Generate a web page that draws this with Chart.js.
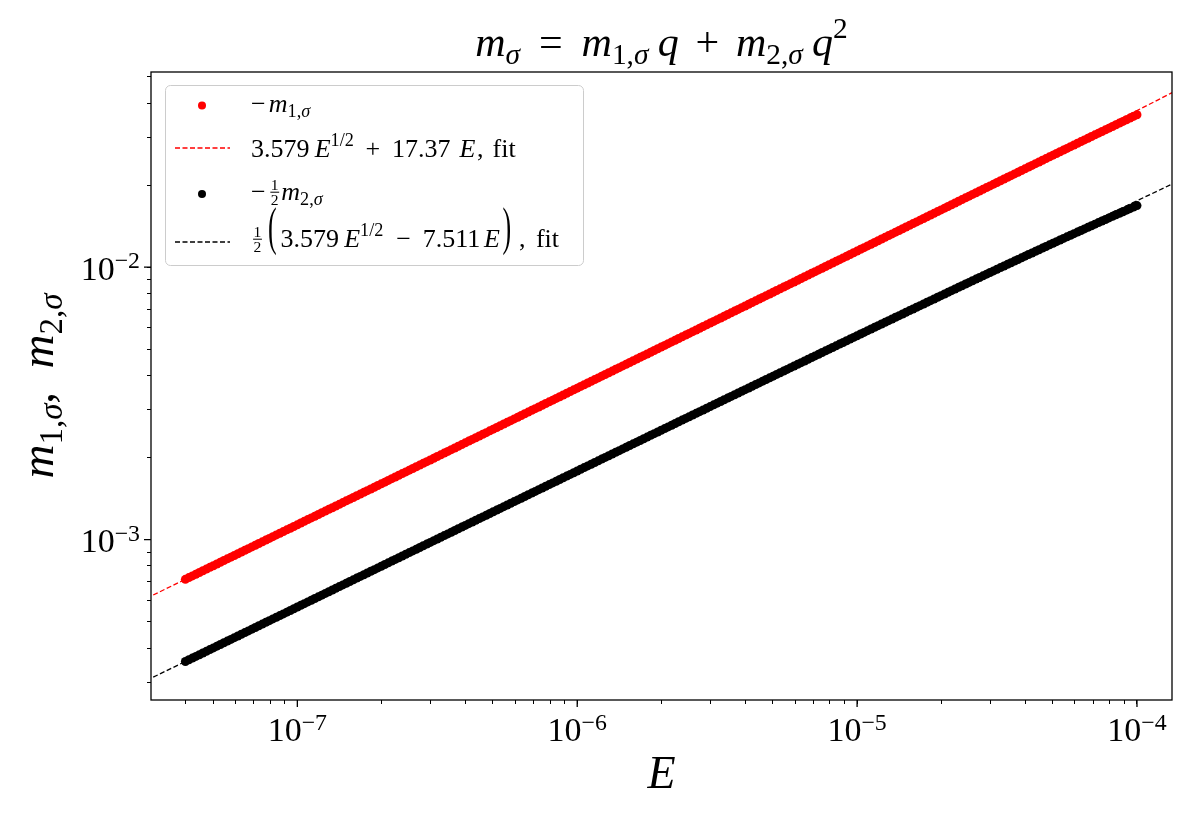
<!DOCTYPE html>
<html>
<head>
<meta charset="utf-8">
<title>m_sigma = m1 q + m2 q^2</title>
<script src="https://cdn.jsdelivr.net/npm/chart.js@4.4.0/dist/chart.umd.min.js"></script>
<style>
  html, body { margin: 0; padding: 0; background: #fff; }
  canvas { display: block; }
</style>
</head>
<body>
<canvas id="chart" width="1200" height="825"></canvas>
<script>
// ---- data ----
const energies = [
  3.981e-8, 4.097e-8, 4.217e-8, 4.340e-8, 4.467e-8, 4.597e-8, 4.732e-8, 4.870e-8, 5.012e-8, 5.158e-8,
  5.309e-8, 5.464e-8, 5.623e-8, 5.788e-8, 5.957e-8, 6.131e-8, 6.310e-8, 6.494e-8, 6.683e-8, 6.879e-8,
  7.079e-8, 7.286e-8, 7.499e-8, 7.718e-8, 7.943e-8, 8.175e-8, 8.414e-8, 8.660e-8, 8.913e-8, 9.173e-8,
  9.441e-8, 9.716e-8,
  1.000e-7, 1.029e-7, 1.059e-7, 1.090e-7, 1.122e-7, 1.155e-7, 1.189e-7, 1.223e-7, 1.259e-7, 1.296e-7,
  1.334e-7, 1.372e-7, 1.413e-7, 1.454e-7, 1.496e-7, 1.540e-7, 1.585e-7, 1.631e-7, 1.679e-7, 1.728e-7,
  1.778e-7, 1.830e-7, 1.884e-7, 1.939e-7, 1.995e-7, 2.054e-7, 2.113e-7, 2.175e-7, 2.239e-7, 2.304e-7,
  2.371e-7, 2.441e-7, 2.512e-7, 2.585e-7, 2.661e-7, 2.738e-7, 2.818e-7, 2.901e-7, 2.985e-7, 3.073e-7,
  3.162e-7, 3.255e-7, 3.350e-7, 3.448e-7, 3.548e-7, 3.652e-7, 3.758e-7, 3.868e-7, 3.981e-7, 4.097e-7,
  4.217e-7, 4.340e-7, 4.467e-7, 4.597e-7, 4.732e-7, 4.870e-7, 5.012e-7, 5.158e-7, 5.309e-7, 5.464e-7,
  5.623e-7, 5.788e-7, 5.957e-7, 6.131e-7, 6.310e-7, 6.494e-7, 6.683e-7, 6.879e-7, 7.079e-7, 7.286e-7,
  7.499e-7, 7.718e-7, 7.943e-7, 8.175e-7, 8.414e-7, 8.660e-7, 8.913e-7, 9.173e-7, 9.441e-7, 9.716e-7,
  1.000e-6, 1.029e-6, 1.059e-6, 1.090e-6, 1.122e-6, 1.155e-6, 1.189e-6, 1.223e-6, 1.259e-6, 1.296e-6,
  1.334e-6, 1.372e-6, 1.413e-6, 1.454e-6, 1.496e-6, 1.540e-6, 1.585e-6, 1.631e-6, 1.679e-6, 1.728e-6,
  1.778e-6, 1.830e-6, 1.884e-6, 1.939e-6, 1.995e-6, 2.054e-6, 2.113e-6, 2.175e-6, 2.239e-6, 2.304e-6,
  2.371e-6, 2.441e-6, 2.512e-6, 2.585e-6, 2.661e-6, 2.738e-6, 2.818e-6, 2.901e-6, 2.985e-6, 3.073e-6,
  3.162e-6, 3.255e-6, 3.350e-6, 3.448e-6, 3.548e-6, 3.652e-6, 3.758e-6, 3.868e-6, 3.981e-6, 4.097e-6,
  4.217e-6, 4.340e-6, 4.467e-6, 4.597e-6, 4.732e-6, 4.870e-6, 5.012e-6, 5.158e-6, 5.309e-6, 5.464e-6,
  5.623e-6, 5.788e-6, 5.957e-6, 6.131e-6, 6.310e-6, 6.494e-6, 6.683e-6, 6.879e-6, 7.079e-6, 7.286e-6,
  7.499e-6, 7.718e-6, 7.943e-6, 8.175e-6, 8.414e-6, 8.660e-6, 8.913e-6, 9.173e-6, 9.441e-6, 9.716e-6,
  1.000e-5, 1.029e-5, 1.059e-5, 1.090e-5, 1.122e-5, 1.155e-5, 1.189e-5, 1.223e-5, 1.259e-5, 1.296e-5,
  1.334e-5, 1.372e-5, 1.413e-5, 1.454e-5, 1.496e-5, 1.540e-5, 1.585e-5, 1.631e-5, 1.679e-5, 1.728e-5,
  1.778e-5, 1.830e-5, 1.884e-5, 1.939e-5, 1.995e-5, 2.054e-5, 2.113e-5, 2.175e-5, 2.239e-5, 2.304e-5,
  2.371e-5, 2.441e-5, 2.512e-5, 2.585e-5, 2.661e-5, 2.738e-5, 2.818e-5, 2.901e-5, 2.985e-5, 3.073e-5,
  3.162e-5, 3.255e-5, 3.350e-5, 3.448e-5, 3.548e-5, 3.652e-5, 3.758e-5, 3.868e-5, 3.981e-5, 4.097e-5,
  4.217e-5, 4.340e-5, 4.467e-5, 4.597e-5, 4.732e-5, 4.870e-5, 5.012e-5, 5.158e-5, 5.309e-5, 5.464e-5,
  5.623e-5, 5.788e-5, 5.957e-5, 6.131e-5, 6.310e-5, 6.494e-5, 6.683e-5, 6.879e-5, 7.079e-5, 7.286e-5,
  7.499e-5, 7.718e-5, 7.943e-5, 8.175e-5, 8.414e-5, 8.660e-5, 8.913e-5, 9.173e-5, 9.441e-5, 9.716e-5,
  1.000e-4
];

// -m_{1,sigma}
const m1Values = [
  7.148e-4, 7.252e-4, 7.356e-4, 7.464e-4, 7.571e-4, 7.682e-4, 7.793e-4, 7.907e-4, 8.020e-4, 8.138e-4,
  8.255e-4, 8.376e-4, 8.496e-4, 8.620e-4, 8.744e-4, 8.872e-4, 9.000e-4, 9.132e-4, 9.263e-4, 9.399e-4,
  9.534e-4, 9.674e-4, 9.813e-4, 9.957e-4,
  1.010e-3, 1.025e-3, 1.040e-3, 1.055e-3, 1.070e-3, 1.086e-3, 1.101e-3, 1.117e-3, 1.133e-3, 1.150e-3,
  1.167e-3, 1.184e-3, 1.201e-3, 1.218e-3, 1.236e-3, 1.254e-3, 1.272e-3, 1.291e-3, 1.309e-3, 1.328e-3,
  1.347e-3, 1.367e-3, 1.387e-3, 1.407e-3, 1.427e-3, 1.448e-3, 1.469e-3, 1.491e-3, 1.512e-3, 1.534e-3,
  1.556e-3, 1.579e-3, 1.602e-3, 1.625e-3, 1.649e-3, 1.673e-3, 1.697e-3, 1.722e-3, 1.747e-3, 1.772e-3,
  1.798e-3, 1.824e-3, 1.850e-3, 1.877e-3, 1.905e-3, 1.932e-3, 1.960e-3, 1.989e-3, 2.018e-3, 2.047e-3,
  2.077e-3, 2.107e-3, 2.138e-3, 2.169e-3, 2.200e-3, 2.232e-3, 2.265e-3, 2.298e-3, 2.331e-3, 2.365e-3,
  2.399e-3, 2.434e-3, 2.469e-3, 2.506e-3, 2.542e-3, 2.579e-3, 2.616e-3, 2.655e-3, 2.693e-3, 2.732e-3,
  2.772e-3, 2.812e-3, 2.853e-3, 2.895e-3, 2.937e-3, 2.980e-3, 3.023e-3, 3.067e-3, 3.111e-3, 3.157e-3,
  3.203e-3, 3.249e-3, 3.296e-3, 3.345e-3, 3.393e-3, 3.443e-3, 3.493e-3, 3.544e-3, 3.595e-3, 3.648e-3,
  3.700e-3, 3.755e-3, 3.809e-3, 3.865e-3, 3.921e-3, 3.978e-3, 4.036e-3, 4.095e-3, 4.154e-3, 4.215e-3,
  4.276e-3, 4.339e-3, 4.401e-3, 4.466e-3, 4.531e-3, 4.597e-3, 4.664e-3, 4.732e-3, 4.800e-3, 4.871e-3,
  4.942e-3, 5.014e-3, 5.086e-3, 5.161e-3, 5.236e-3, 5.313e-3, 5.389e-3, 5.469e-3, 5.548e-3, 5.629e-3,
  5.711e-3, 5.795e-3, 5.879e-3, 5.965e-3, 6.051e-3, 6.140e-3, 6.229e-3, 6.321e-3, 6.412e-3, 6.506e-3,
  6.601e-3, 6.697e-3, 6.794e-3, 6.894e-3, 6.994e-3, 7.097e-3, 7.200e-3, 7.306e-3, 7.411e-3, 7.520e-3,
  7.630e-3, 7.742e-3, 7.854e-3, 7.969e-3, 8.085e-3, 8.204e-3, 8.323e-3, 8.445e-3, 8.568e-3, 8.694e-3,
  8.819e-3, 8.949e-3, 9.079e-3, 9.213e-3, 9.346e-3, 9.484e-3, 9.621e-3, 9.763e-3, 9.904e-3,
  1.0050e-2, 1.0196e-2, 1.0346e-2, 1.0496e-2, 1.0651e-2, 1.0805e-2, 1.0964e-2, 1.1123e-2, 1.1287e-2, 1.1450e-2,
  1.1619e-2, 1.1787e-2, 1.1961e-2, 1.2135e-2, 1.2313e-2, 1.2492e-2, 1.2675e-2, 1.2859e-2, 1.3048e-2, 1.3238e-2,
  1.3433e-2, 1.3628e-2, 1.3828e-2, 1.4029e-2, 1.4235e-2, 1.4442e-2, 1.4654e-2, 1.4866e-2, 1.5085e-2, 1.5304e-2,
  1.5529e-2, 1.5754e-2, 1.5986e-2, 1.6217e-2, 1.6456e-2, 1.6694e-2, 1.6940e-2, 1.7185e-2, 1.7438e-2, 1.7690e-2,
  1.7950e-2, 1.8210e-2, 1.8478e-2, 1.8745e-2, 1.9020e-2, 1.9295e-2, 1.9578e-2, 1.9862e-2, 2.0153e-2, 2.0444e-2,
  2.0744e-2, 2.1044e-2, 2.1352e-2, 2.1660e-2, 2.1977e-2, 2.2294e-2, 2.2621e-2, 2.2947e-2, 2.3282e-2, 2.3618e-2,
  2.3963e-2, 2.4308e-2, 2.4662e-2, 2.5017e-2, 2.5382e-2, 2.5747e-2, 2.6122e-2, 2.6496e-2, 2.6882e-2, 2.7267e-2,
  2.7663e-2, 2.8059e-2, 2.8466e-2, 2.8874e-2, 2.9292e-2, 2.9710e-2, 3.0139e-2, 3.0569e-2, 3.1010e-2, 3.1451e-2,
  3.1904e-2, 3.2357e-2, 3.2822e-2, 3.3287e-2, 3.3765e-2, 3.4242e-2, 3.4732e-2, 3.5222e-2, 3.5725e-2, 3.6227e-2
];

// -1/2 m_{2,sigma}
const m2Values = [
  3.569e-4, 3.621e-4, 3.673e-4, 3.727e-4, 3.780e-4, 3.835e-4, 3.890e-4, 3.947e-4, 4.004e-4, 4.063e-4,
  4.121e-4, 4.181e-4, 4.241e-4, 4.303e-4, 4.365e-4, 4.429e-4, 4.492e-4, 4.558e-4, 4.623e-4, 4.691e-4,
  4.758e-4, 4.828e-4, 4.897e-4, 4.969e-4, 5.040e-4, 5.114e-4, 5.187e-4, 5.262e-4, 5.337e-4, 5.416e-4,
  5.494e-4, 5.575e-4, 5.655e-4, 5.738e-4, 5.820e-4, 5.905e-4, 5.989e-4, 6.077e-4, 6.164e-4, 6.254e-4,
  6.344e-4, 6.437e-4, 6.529e-4, 6.625e-4, 6.720e-4, 6.818e-4, 6.915e-4, 7.016e-4, 7.117e-4, 7.221e-4,
  7.325e-4, 7.432e-4, 7.539e-4, 7.649e-4, 7.758e-4, 7.872e-4, 7.985e-4, 8.102e-4, 8.218e-4, 8.338e-4,
  8.457e-4, 8.581e-4, 8.704e-4, 8.831e-4, 8.958e-4, 9.089e-4, 9.219e-4, 9.354e-4, 9.488e-4, 9.626e-4,
  9.764e-4, 9.907e-4,
  1.0049e-3, 1.0196e-3, 1.0342e-3, 1.0493e-3, 1.0644e-3, 1.0799e-3, 1.0954e-3, 1.1114e-3, 1.1274e-3, 1.1438e-3,
  1.1602e-3, 1.1771e-3, 1.1940e-3, 1.2114e-3, 1.2288e-3, 1.2468e-3, 1.2647e-3, 1.2831e-3, 1.3015e-3, 1.3205e-3,
  1.3395e-3, 1.3590e-3, 1.3785e-3, 1.3986e-3, 1.4187e-3, 1.4394e-3, 1.4600e-3, 1.4813e-3, 1.5026e-3, 1.5245e-3,
  1.5464e-3, 1.5689e-3, 1.5914e-3, 1.6146e-3, 1.6378e-3, 1.6617e-3, 1.6855e-3, 1.7101e-3, 1.7346e-3, 1.7598e-3,
  1.7850e-3, 1.8110e-3, 1.8370e-3, 1.8638e-3, 1.8906e-3, 1.9181e-3, 1.9455e-3, 1.9738e-3, 2.0021e-3, 2.0313e-3,
  2.0604e-3, 2.0904e-3, 2.1203e-3, 2.1512e-3, 2.1820e-3, 2.2138e-3, 2.2455e-3, 2.2782e-3, 2.3108e-3, 2.3444e-3,
  2.3780e-3, 2.4126e-3, 2.4472e-3, 2.4827e-3, 2.5182e-3, 2.5549e-3, 2.5915e-3, 2.6291e-3, 2.6667e-3, 2.7055e-3,
  2.7442e-3, 2.7841e-3, 2.8240e-3, 2.8650e-3, 2.9060e-3, 2.9482e-3, 2.9903e-3, 3.0337e-3, 3.0771e-3, 3.1218e-3,
  3.1665e-3, 3.2124e-3, 3.2583e-3, 3.3055e-3, 3.3527e-3, 3.4013e-3, 3.4499e-3, 3.5000e-3, 3.5501e-3, 3.6015e-3,
  3.6528e-3, 3.7058e-3, 3.7587e-3, 3.8132e-3, 3.8676e-3, 3.9236e-3, 3.9795e-3, 4.0371e-3, 4.0946e-3, 4.1539e-3,
  4.2132e-3, 4.2741e-3, 4.3349e-3, 4.3976e-3, 4.4603e-3, 4.5247e-3, 4.5890e-3, 4.6553e-3, 4.7216e-3, 4.7897e-3,
  4.8578e-3, 4.9279e-3, 4.9980e-3, 5.0701e-3, 5.1421e-3, 5.2162e-3, 5.2903e-3, 5.3665e-3, 5.4427e-3, 5.5210e-3,
  5.5992e-3, 5.6797e-3, 5.7602e-3, 5.8430e-3, 5.9258e-3, 6.0109e-3, 6.0960e-3, 6.1834e-3, 6.2708e-3, 6.3607e-3,
  6.4506e-3, 6.5431e-3, 6.6355e-3, 6.7304e-3, 6.8253e-3, 6.9229e-3, 7.0205e-3, 7.1207e-3, 7.2209e-3, 7.3240e-3,
  7.4270e-3, 7.5328e-3, 7.6386e-3, 7.7474e-3, 7.8561e-3, 7.9677e-3, 8.0793e-3, 8.1941e-3, 8.3088e-3, 8.4266e-3,
  8.5444e-3, 8.6654e-3, 8.7863e-3, 8.9105e-3, 9.0346e-3, 9.1621e-3, 9.2895e-3, 9.4204e-3, 9.5512e-3, 9.6855e-3,
  9.8198e-3, 9.9576e-3,
  1.00954e-2, 1.02368e-2, 1.03781e-2, 1.05231e-2, 1.06681e-2, 1.08169e-2, 1.09657e-2, 1.11182e-2, 1.12706e-2, 1.14270e-2,
  1.15833e-2, 1.17435e-2, 1.19037e-2, 1.20680e-2, 1.22322e-2, 1.24004e-2, 1.25685e-2, 1.27407e-2, 1.29129e-2, 1.30893e-2,
  1.32657e-2, 1.34463e-2, 1.36268e-2, 1.38115e-2, 1.39961e-2, 1.41851e-2, 1.43740e-2, 1.45672e-2, 1.47603e-2, 1.49577e-2,
  1.51551e-2, 1.53567e-2, 1.55583e-2, 1.57643e-2, 1.59703e-2, 1.61805e-2, 1.63907e-2, 1.66051e-2, 1.68195e-2
];

// dashed fit curves, read at a few energies across the axis
const fitEnergies = [3.055e-8, 1e-7, 3e-7, 1e-6, 3e-6, 1e-5, 3e-5, 1e-4, 1.334e-4];
const fit1Values = [6.261e-4, 1.1335e-3, 1.9655e-3, 3.5964e-3, 6.2512e-3, 1.14915e-2, 2.01241e-2, 3.7527e-2, 4.3654e-2];
const fit2Values = [3.1267e-4, 5.6551e-4, 9.7902e-4, 1.78574e-3, 3.08828e-3, 5.62133e-3, 9.68884e-3, 1.75195e-2, 2.01675e-2];

// axes
const xRange = [3.055e-8, 1.334e-4];
const yRange = [2.578e-4, 5.2e-2];
const xMajorTicks = [1e-7, 1e-6, 1e-5, 1e-4];
const xTickLabels = ["\u22127", "\u22126", "\u22125", "\u22124"];
const yMajorTicks = [1e-3, 1e-2];
const yTickLabels = ["\u22123", "\u22122"];

// ---- helpers ----
function logTicks(min, max) {
  const out = [];
  for (let e = Math.floor(Math.log10(min)); e <= Math.ceil(Math.log10(max)); e++) {
    for (let m = 1; m <= 9; m++) {
      const v = parseFloat((m * Math.pow(10, e)).toPrecision(6));
      if (v >= min && v <= max) out.push(v);
    }
  }
  return out;
}

const SERIF = '"Liberation Serif", "DejaVu Serif", serif';
function setFont(ctx, px, italic) {
  ctx.font = (italic ? "italic " : "") + px.toFixed(2) + "px " + SERIF;
}
// rich text pieces: t = text, i = italic, s = scale, dy = baseline shift (em),
// g = gap (em), f = [num, den] fraction, p = stretched paren
const I = (t) => ({ t, i: 1 });
const R = (t) => ({ t });
const SUB = (t, i) => ({ t, i, s: 0.7, dy: 0.2 });
const SUP = (t, dy) => ({ t, s: 0.7, dy: dy === undefined ? -0.42 : dy });
const G = (g) => ({ g });

function segWidth(ctx, sg, size) {
  if (sg.g !== undefined) return sg.g * size;
  if (sg.f) {
    setFont(ctx, size * 0.6);
    return Math.max(ctx.measureText(sg.f[0]).width, ctx.measureText(sg.f[1]).width) + 0.2 * size;
  }
  if (sg.p) { setFont(ctx, size); return ctx.measureText(sg.p).width; }
  setFont(ctx, size * (sg.s || 1), sg.i);
  return ctx.measureText(sg.t).width;
}

function drawSeg(ctx, sg, x, y, size) {
  if (sg.g !== undefined) return;
  if (sg.f) {
    const w = segWidth(ctx, sg, size);
    const fs = size * 0.6;
    const bar = y - 0.3 * size;
    setFont(ctx, fs);
    ctx.textAlign = "center";
    ctx.fillText(sg.f[0], x + w / 2, bar - 0.1 * size);
    ctx.fillText(sg.f[1], x + w / 2, bar + 0.1 * size + 0.66 * fs);
    ctx.textAlign = "left";
    ctx.fillRect(x + 0.08 * size, bar - 0.5, w - 0.16 * size, 1);
    return;
  }
  if (sg.p) {
    ctx.save();
    ctx.translate(x, y - 0.62 * size);
    ctx.scale(1, sg.sy);
    setFont(ctx, size);
    ctx.fillText(sg.p, 0, 0.26 * size);
    ctx.restore();
    return;
  }
  setFont(ctx, size * (sg.s || 1), sg.i);
  ctx.fillText(sg.t, x, y + (sg.dy || 0) * size);
}

function drawRich(ctx, segs, x, y, size, align) {
  ctx.textAlign = "left";
  ctx.textBaseline = "alphabetic";
  let w = 0;
  segs.forEach((sg) => (w += segWidth(ctx, sg, size)));
  let cx = align === "center" ? x - w / 2 : align === "right" ? x - w : x;
  segs.forEach((sg) => {
    drawSeg(ctx, sg, cx, y, size);
    cx += segWidth(ctx, sg, size);
  });
}

// ---- text pieces ----
const titleText = [
  I("m"), SUB("\u03c3", 1), G(0.45), R("="), G(0.45),
  I("m"), SUB("1,"), SUB("\u03c3", 1), G(0.22), I("q"), G(0.4), R("+"), G(0.4),
  I("m"), SUB("2,"), SUB("\u03c3", 1), G(0.22), I("q"), SUP("2")
];
const yLabelText = [I("m"), SUB("1,"), SUB("\u03c3", 1), R(","), G(0.5), I("m"), SUB("2,"), SUB("\u03c3", 1)];
const legendRows = [
  { color: "#ff0000", kind: "dot", text: [R("\u2212"), G(0.12), I("m"), SUB("1,"), SUB("\u03c3", 1)] },
  { color: "#ff0000", kind: "dash", text: [R("3.579"), G(0.2), I("E"), SUP("1/2"), G(0.45), R("+"), G(0.45),
      R("17.37"), G(0.35), I("E"), G(0.06), R(","), G(0.35), R("fit")] },
  { color: "#000000", kind: "dot", text: [R("\u2212"), G(0.1), { f: ["1", "2"] }, I("m"), SUB("2,"), SUB("\u03c3", 1)] },
  { color: "#000000", kind: "dash", text: [{ f: ["1", "2"] }, G(0.15), { p: "(", sy: 2 }, G(0.15), R("3.579"), G(0.2), I("E"),
      SUP("1/2"), G(0.5), R("\u2212"), G(0.45), R("7.511"), G(0.15), I("E"), G(0.1), { p: ")", sy: 2 }, G(0.3), R(","),
      G(0.4), R("fit")] }
];

// ---- drawing plugin for frame, major ticks, math labels and legend ----
const decorPlugin = {
  id: "decor",
  afterDraw(chart) {
    const ctx = chart.ctx;
    const a = chart.chartArea;
    const xs = chart.scales.x;
    const ys = chart.scales.y;
    ctx.save();
    ctx.fillStyle = "#000";
    ctx.strokeStyle = "#000";

    // frame
    ctx.lineWidth = 1.3;
    ctx.strokeRect(a.left, a.top, a.right - a.left, a.bottom - a.top);

    // major ticks, longer than minor ones
    ctx.beginPath();
    xMajorTicks.forEach((v) => {
      const px = xs.getPixelForValue(v);
      ctx.moveTo(px, a.bottom);
      ctx.lineTo(px, a.bottom + 7);
    });
    yMajorTicks.forEach((v) => {
      const py = ys.getPixelForValue(v);
      ctx.moveTo(a.left, py);
      ctx.lineTo(a.left - 7, py);
    });
    ctx.stroke();

    // tick labels
    xMajorTicks.forEach((v, i) => {
      drawRich(ctx, [R("10"), SUP(xTickLabels[i], -0.33)], xs.getPixelForValue(v), a.bottom + 41, 34, "center");
    });
    yMajorTicks.forEach((v, i) => {
      drawRich(ctx, [R("10"), SUP(yTickLabels[i], -0.33)], a.left - 11, ys.getPixelForValue(v) + 12.5, 34, "right");
    });

    // title and axis titles
    const cx = (a.left + a.right) / 2;
    drawRich(ctx, titleText, cx, 56, 42, "center");
    drawRich(ctx, [I("E")], cx, 788, 46, "center");
    ctx.save();
    ctx.translate(53, (a.top + a.bottom) / 2);
    ctx.rotate(-Math.PI / 2);
    drawRich(ctx, yLabelText, 0, 0, 47, "center");
    ctx.restore();

    // legend
    const lx = 165.5, ly = 85.5, lw = 418, lh = 180;
    ctx.beginPath();
    ctx.roundRect(lx, ly, lw, lh, 5);
    ctx.fillStyle = "rgba(255,255,255,0.8)";
    ctx.fill();
    ctx.strokeStyle = "#cccccc";
    ctx.lineWidth = 1;
    ctx.stroke();
    const rowY = [105.5, 148, 194, 242];
    const rowBase = [112, 157, 200, 247];
    legendRows.forEach((row, i) => {
      ctx.fillStyle = row.color;
      ctx.strokeStyle = row.color;
      if (row.kind === "dot") {
        ctx.beginPath();
        ctx.arc(202, rowY[i], 4, 0, Math.PI * 2);
        ctx.fill();
      } else {
        ctx.lineWidth = 1.3;
        ctx.setLineDash([5, 2.5]);
        ctx.beginPath();
        ctx.moveTo(175, rowY[i]);
        ctx.lineTo(230, rowY[i]);
        ctx.stroke();
        ctx.setLineDash([]);
      }
      ctx.fillStyle = "#000";
      drawRich(ctx, row.text, 251, rowBase[i], 26, "left");
    });
    ctx.restore();
  }
};

// ---- chart ----
const pts = (xv, yv) => xv.map((x, i) => ({ x, y: yv[i] }));

const scaleBase = {
  type: "logarithmic",
  border: { display: false },
  grid: { drawOnChartArea: false, drawTicks: true, tickLength: 4, tickColor: "#000", tickWidth: 1 },
  ticks: { autoSkip: false, maxRotation: 0, callback: () => "" }
};

new Chart(document.getElementById("chart"), {
  type: "scatter",
  data: {
    datasets: [
      {
        label: "fit 1", data: pts(fitEnergies, fit1Values), showLine: true,
        borderColor: "#ff0000", borderWidth: 1.3, borderDash: [5, 2.5], pointRadius: 0, order: 0
      },
      {
        label: "fit 2", data: pts(fitEnergies, fit2Values), showLine: true,
        borderColor: "#000000", borderWidth: 1.3, borderDash: [5, 2.5], pointRadius: 0, order: 0
      },
      {
        label: "-m1", data: pts(energies, m1Values), pointRadius: 4.5, pointBorderWidth: 0,
        pointBackgroundColor: "#ff0000", backgroundColor: "#ff0000", order: 2
      },
      {
        label: "-m2/2", data: pts(energies, m2Values), pointRadius: 4.5, pointBorderWidth: 0,
        pointBackgroundColor: "#000000", backgroundColor: "#000000", order: 1
      }
    ]
  },
  options: {
    responsive: false,
    devicePixelRatio: 1,
    animation: false,
    events: [],
    layout: { padding: { left: 0, top: 72, right: 28, bottom: 0 } },
    plugins: { legend: { display: false }, tooltip: { enabled: false }, title: { display: false } },
    scales: {
      x: Object.assign({}, scaleBase, {
        min: xRange[0], max: xRange[1],
        afterBuildTicks: (s) => { s.ticks = logTicks(xRange[0], xRange[1]).map((v) => ({ value: v })); },
        afterFit: (s) => { s.height = 125; }
      }),
      y: Object.assign({}, scaleBase, {
        min: yRange[0], max: yRange[1],
        afterBuildTicks: (s) => { s.ticks = logTicks(yRange[0], yRange[1]).map((v) => ({ value: v })); },
        afterFit: (s) => { s.width = 151; }
      })
    }
  },
  plugins: [decorPlugin]
});
</script>
</body>
</html>
